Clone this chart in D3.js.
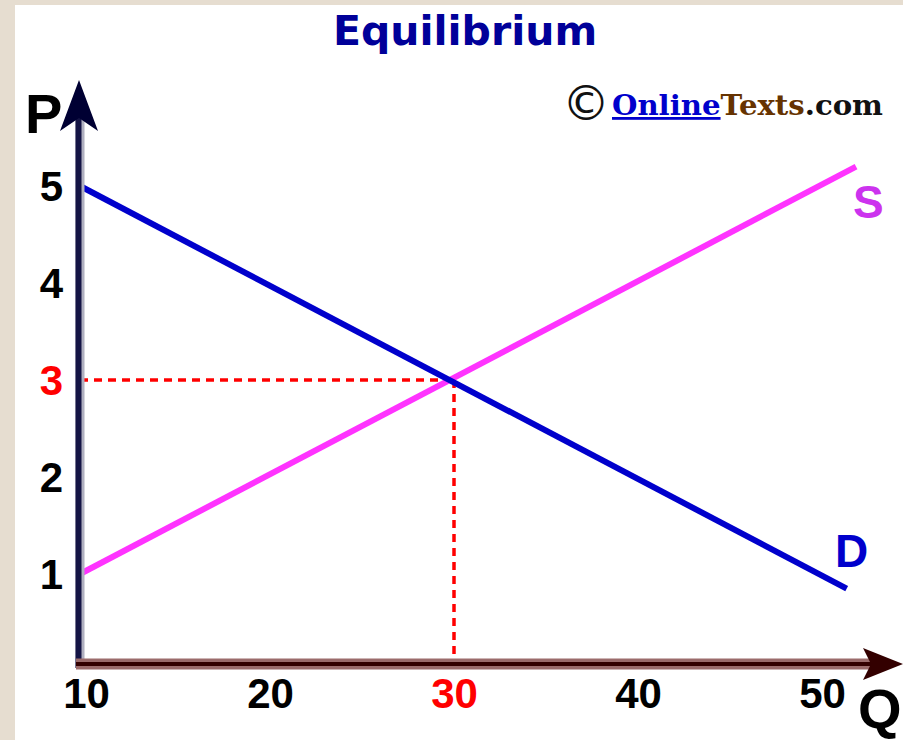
<!DOCTYPE html>
<html>
<head>
<meta charset="utf-8">
<script src="https://cdn.jsdelivr.net/npm/d3@7"></script>
<style>
html, body { margin: 0; padding: 0; background: #e6ddd0; }
svg { display: block; }
</style>
</head>
<body>
<script>
const width = 903
const height = 740

// values
const qTicks = [10, 20, 30, 40, 50]
const pTicks = [1, 2, 3, 4, 5]
const supply = [[10, 1], [51.5, 5.2]]
const demand = [[10, 5], [51, 0.85]]
const equilibrium = {q: 30, p: 3}

const red = "#ff0000"

const svg = d3.select("body").append("svg")
    .attr("width", width)
    .attr("height", height)

// beige frame + white panel
svg.append("rect").attr("width", width).attr("height", height).attr("fill", "#e6ddd0")
svg.append("rect").attr("x", 15).attr("y", 5).attr("width", width - 15).attr("height", height - 5).attr("fill", "#fff")

const x = d3.scaleLinear().domain([10, 50]).range([80, 828])
const y = d3.scaleLinear().domain([1, 5]).range([574, 186])
const xLabel = x.copy().range([86, 822])  // tick labels sit a little off the grid in the original
const axisY = 664

// title
svg.append("text")
    .attr("x", 465).attr("y", 45)
    .attr("text-anchor", "middle")
    .attr("font-family", "DejaVu Sans")
    .attr("font-weight", "bold")
    .attr("font-size", 41)
    .attr("fill", "#000099")
    .text("Equilibrium")

// copyright badge
svg.append("text")
    .attr("x", 586).attr("y", 120)
    .attr("text-anchor", "middle")
    .attr("font-family", "DejaVu Sans")
    .attr("font-size", 48)
    .attr("fill", "#111")
    .text("\u00a9")
const logo = svg.append("text")
    .attr("x", 612).attr("y", 115)
    .attr("font-family", "DejaVu Serif")
    .attr("font-weight", "bold")
    .attr("font-size", 28)
    .attr("textLength", 271)
    .attr("lengthAdjust", "spacingAndGlyphs")
logo.append("tspan").attr("fill", "#0000cc").style("text-decoration", "underline").text("Online")
logo.append("tspan").attr("fill", "#663300").text("Texts")
logo.append("tspan").attr("fill", "#111").text(".com")

// dashed guides to equilibrium
const guides = svg.append("g")
    .attr("stroke", red)
    .attr("stroke-width", 3.5)
    .attr("stroke-dasharray", "8,6")
guides.append("line")
    .attr("x1", x(10)).attr("x2", x(equilibrium.q))
    .attr("y1", y(equilibrium.p)).attr("y2", y(equilibrium.p))
guides.append("line")
    .attr("x1", x(equilibrium.q)).attr("x2", x(equilibrium.q))
    .attr("y1", y(equilibrium.p)).attr("y2", axisY)

// curves
const line = d3.line().x(d => x(d[0])).y(d => y(d[1]))
svg.append("path").datum(supply)
    .attr("d", line)
    .attr("fill", "none")
    .attr("stroke", "#ff33ff")
    .attr("stroke-width", 6)
svg.append("path").datum(demand)
    .attr("d", line)
    .attr("fill", "none")
    .attr("stroke", "#0000cc")
    .attr("stroke-width", 6)

// axes lines + arrowheads
svg.append("line")
    .attr("x1", 80).attr("x2", 80).attr("y1", 668).attr("y2", 110)
    .attr("stroke", "#b0b0c0").attr("stroke-width", 9)
svg.append("line")
    .attr("x1", 78.5).attr("x2", 78.5).attr("y1", 668).attr("y2", 110)
    .attr("stroke", "#141445").attr("stroke-width", 6)
svg.append("path")
    .attr("d", "M79,80 L98,131 L79,118 L60,131 Z")
    .attr("fill", "#000033")

svg.append("line")
    .attr("x1", 76).attr("x2", 875).attr("y1", axisY).attr("y2", axisY)
    .attr("stroke", "#9b6b6b").attr("stroke-width", 11)
svg.append("line")
    .attr("x1", 76).attr("x2", 875).attr("y1", axisY).attr("y2", axisY)
    .attr("stroke", "#330000").attr("stroke-width", 4)
svg.append("path")
    .attr("d", `M903,${axisY} L863,${axisY - 16} L871,${axisY} L863,${axisY + 16} Z`)
    .attr("fill", "#330000")

// tick labels
const tickFont = g => g
    .call(g => g.select(".domain").remove())
    .call(g => g.selectAll("text")
        .attr("font-family", "Liberation Sans, Arial, sans-serif")
        .attr("font-weight", "bold")
        .attr("font-size", 42))

svg.append("g")
    .attr("transform", `translate(63,0)`)
    .call(d3.axisLeft(y).tickValues(pTicks).tickSize(0).tickPadding(0).tickFormat(d3.format("d")))
    .call(tickFont)
    .call(g => g.selectAll("text").attr("dy", "0.35em")
        .attr("fill", d => d === equilibrium.p ? red : "#000"))

svg.append("g")
    .attr("transform", `translate(0,${axisY})`)
    .call(d3.axisBottom(xLabel).tickValues(qTicks).tickSize(0).tickPadding(14).tickFormat(d3.format("d")))
    .call(tickFont)
    .call(g => g.selectAll("text")
        .attr("fill", d => d === equilibrium.q ? red : "#000"))

// axis names
const letter = (txt, lx, ly, size, color) => svg.append("text")
    .attr("x", lx).attr("y", ly)
    .attr("font-family", "Liberation Sans, Arial, sans-serif")
    .attr("font-weight", "bold")
    .attr("font-size", size)
    .attr("fill", color)
    .text(txt)
letter("P", 25, 133, 56, "#000")
letter("Q", 858, 728, 56, "#000")
letter("S", 853, 218, 46, "#cc33ee")
letter("D", 835, 567, 46, "#0000cc")
</script>
</body>
</html>
